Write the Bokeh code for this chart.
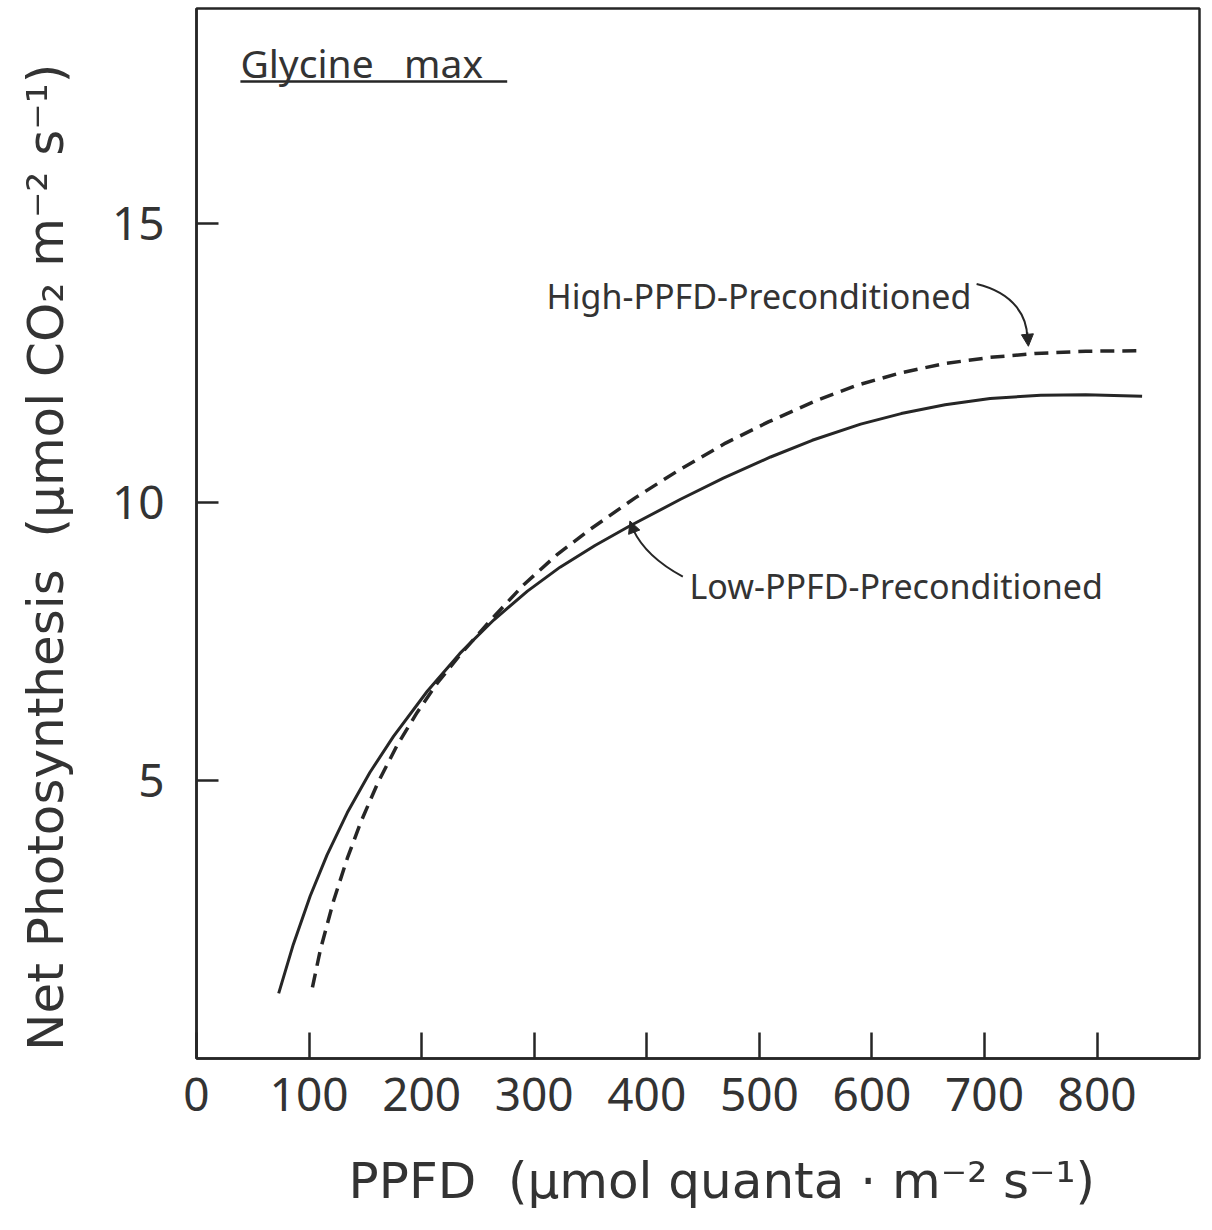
from bokeh.plotting import figure
from bokeh.models import FixedTicker, Label, Arrow, NormalHead, Range1d
from bokeh.embed import file_html
from bokeh.resources import INLINE

# Low-PPFD-preconditioned (solid)
low_ppfd = [73, 86, 101, 116, 134, 154, 175, 205, 234, 264, 294, 323, 354, 384, 430,
            468, 510, 547, 590, 626, 665, 705, 750, 790, 840]
low_pn = [1.17, 2.05, 2.92, 3.66, 4.42, 5.14, 5.79, 6.60, 7.28, 7.88, 8.40, 8.83,
          9.22, 9.56, 10.05, 10.43, 10.81, 11.11, 11.40, 11.59, 11.75, 11.86, 11.92,
          11.93, 11.90]

# High-PPFD-preconditioned (dashed)
high_ppfd = [103, 110, 122, 134, 146, 161, 178, 196, 214, 234, 260, 290, 320, 349,
             390, 429, 470, 508, 550, 587, 625, 665, 705, 745, 790, 840]
high_pn = [1.28, 1.95, 2.85, 3.60, 4.25, 4.95, 5.62, 6.22, 6.75, 7.25, 7.85, 8.50, 9.05,
           9.50, 10.08, 10.58, 11.06, 11.44, 11.82, 12.10, 12.32, 12.49, 12.60, 12.67,
           12.71, 12.72]

x_ticks = [0, 100, 200, 300, 400, 500, 600, 700, 800]
y_ticks = [5, 10, 15]

FONT = "Noto Sans"
LABEL_FONT = "DejaVu Sans"
INK = "#262626"
TXT = "#333333"
NB = "\u00a0"

p = figure(width=1212, height=1230, output_backend="svg", toolbar_location=None,
           x_range=Range1d(0, 891), y_range=Range1d(0, 18.87),
           min_border_left=196, min_border_right=13, min_border_top=8,
           min_border_bottom=172)
p.background_fill_color = "white"
p.border_fill_color = "white"
p.outline_line_color = INK
p.outline_line_width = 2.5
p.xgrid.visible = False
p.ygrid.visible = False

for ax in (p.xaxis[0], p.yaxis[0]):
    ax.axis_line_color = INK
    ax.axis_line_width = 2.5
    ax.major_tick_line_color = INK
    ax.major_tick_line_width = 2.5
    ax.minor_tick_line_color = None
    ax.major_tick_out = 0
    ax.major_label_text_font = FONT
    ax.major_label_text_font_size = "46px"
    ax.major_label_text_color = TXT
    ax.axis_label_text_font = LABEL_FONT
    ax.axis_label_text_font_size = "50px"
    ax.axis_label_text_font_style = "normal"
    ax.axis_label_text_color = TXT

p.xaxis.ticker = FixedTicker(ticks=x_ticks)
p.yaxis.ticker = FixedTicker(ticks=y_ticks)
p.xaxis.major_tick_in = 26
p.yaxis.major_tick_in = 22
p.xaxis.major_label_standoff = 19
p.yaxis.major_label_standoff = 32
p.xaxis.axis_label = NB * 3 + "PPFD" + NB * 2 + "(\u03bcmol quanta \u00b7 m\u207b\u00b2 s\u207b\u00b9)"
p.yaxis.axis_label = ("Net Photosynthesis" + NB * 2 + "(\u03bcmol CO\u2082 m\u207b\u00b2 s\u207b\u00b9)"
                      + NB * 3)
p.xaxis.axis_label_standoff = 38
p.yaxis.axis_label_standoff = 34

p.line(low_ppfd, low_pn, line_color=INK, line_width=3)
p.line(high_ppfd, high_pn, line_color=INK, line_width=3.5, line_dash="14 8")

# Species label with underline
p.add_layout(Label(x=39, y=17.9, text="Glycine" + NB * 3 + "max", text_font=FONT,
                   text_font_size="39px", text_color=TXT, text_baseline="alphabetic"))
p.segment(x0=[39], y0=[17.56], x1=[276], y1=[17.56], line_color=INK, line_width=2.5)

# Curve labels
p.add_layout(Label(x=311, y=13.71, text="High-PPFD-Preconditioned", text_font=FONT,
                   text_font_size="34px", text_color=TXT, text_baseline="middle"))
p.add_layout(Label(x=438, y=8.49, text="Low-PPFD-Preconditioned", text_font=FONT,
                   text_font_size="34px", text_color=TXT, text_baseline="middle"))

# Curved arrows
p.bezier(x0=[693], y0=[13.92], x1=[738], y1=[12.95], cx0=[728], cy0=[13.75],
         cx1=[738], cy1=[13.3], line_color=INK, line_width=2)
p.add_layout(Arrow(end=NormalHead(size=12, line_color=INK, fill_color=INK, line_width=1),
                   x_start=738, y_start=13.05, x_end=739, y_end=12.8,
                   line_color=INK, line_width=2))
p.bezier(x0=[432], y0=[8.66], x1=[388], y1=[9.5], cx0=[410], cy0=[8.9],
         cx1=[395], cy1=[9.2], line_color=INK, line_width=2)
p.add_layout(Arrow(end=NormalHead(size=12, line_color=INK, fill_color=INK, line_width=1),
                   x_start=389, y_start=9.45, x_end=385, y_end=9.66,
                   line_color=INK, line_width=2))

open("out.html", "w").write(file_html(p, INLINE))
